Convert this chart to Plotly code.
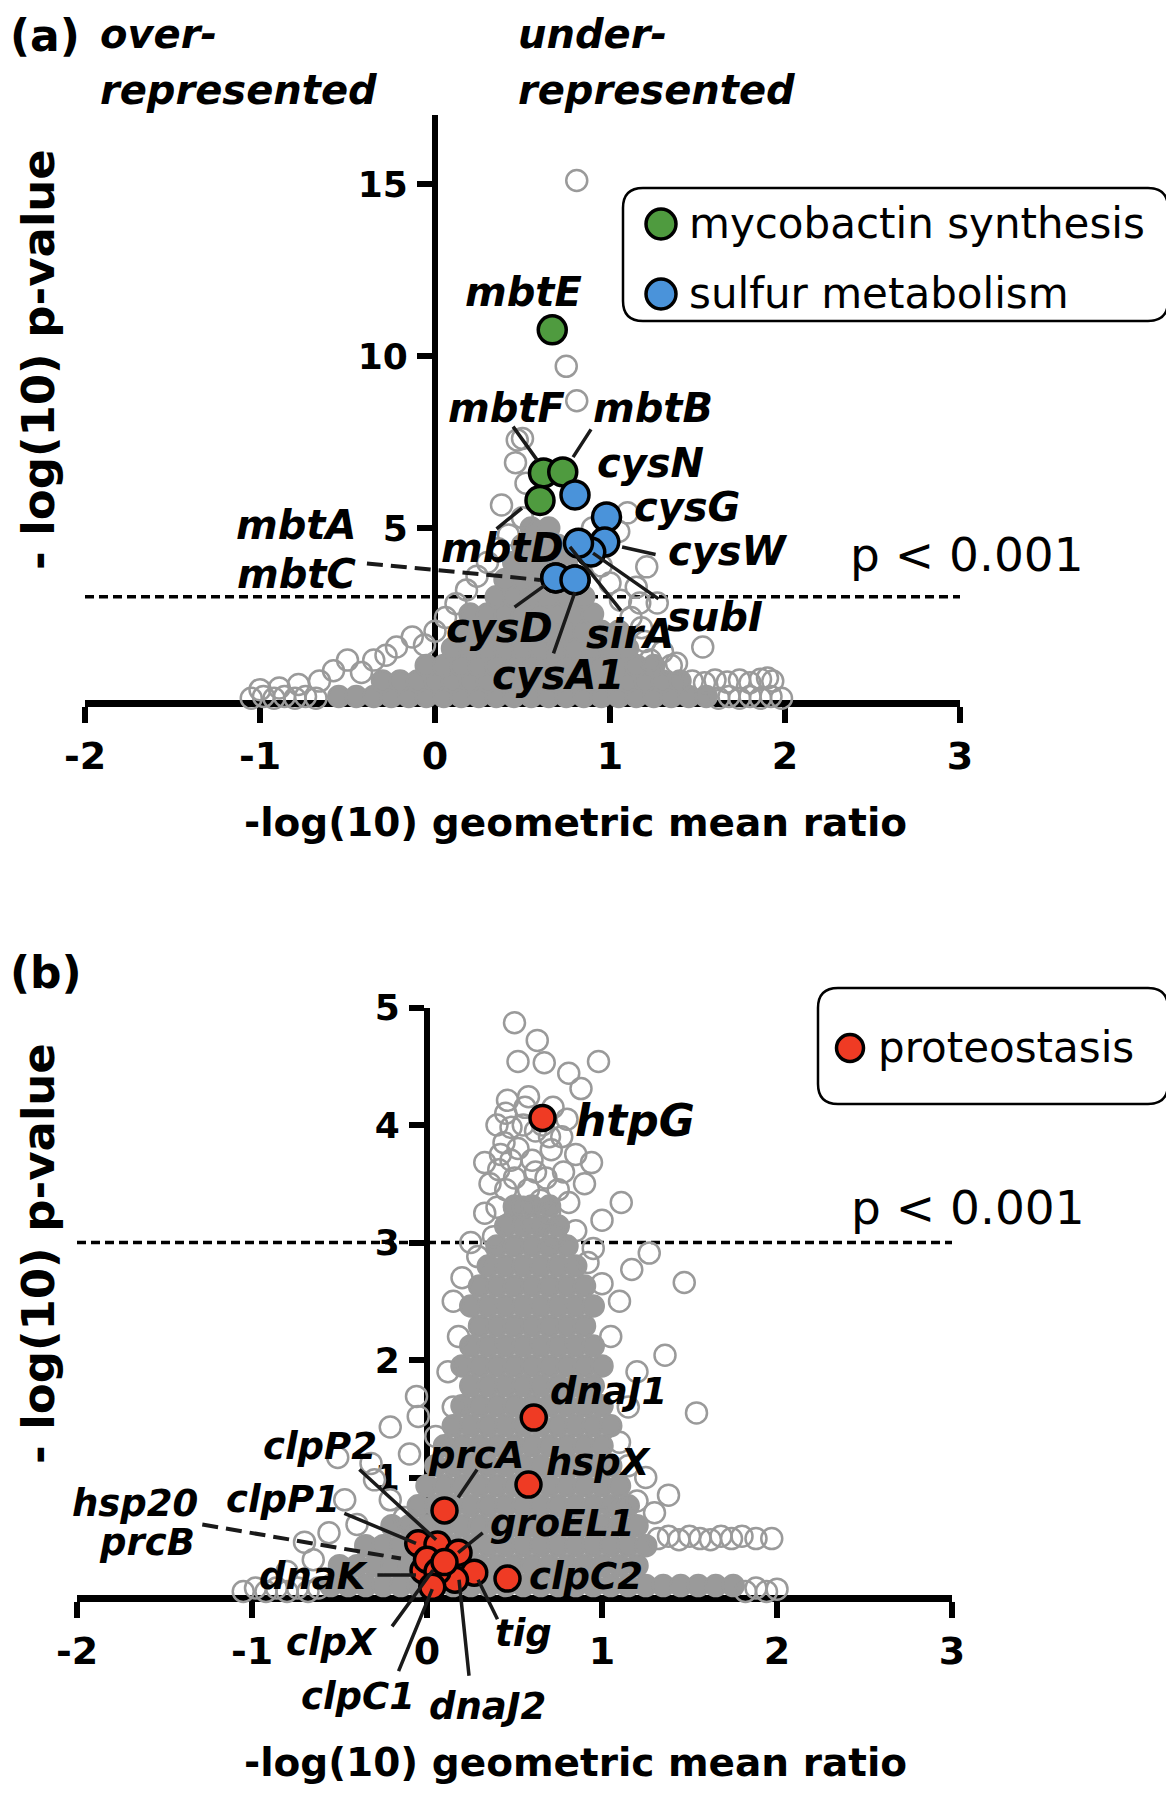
import plotly.graph_objects as go

W, H = 1174, 1800
# the page draws the figure 8 px in from the top-left corner; positions below are
# measured in the reference picture, so they are shifted back by that much
PAGE_OFF = 8

GREY = '#9a9a9a'
GREEN = '#4f9b3f'
BLUE = '#4a93da'
RED = '#ef3b24'
FONT = 'DejaVu Sans'

X_TICKS = [-2, -1, 0, 1, 2, 3]
X_TICK_TEXT = ['-2', '-1', '0', '1', '2', '3']
A_Y_TICKS = [5, 10, 15]
B_Y_TICKS = [1, 2, 3, 4, 5]
A_Y_RANGE = [0, 17]
B_Y_RANGE = [0, 5]
THRESHOLD = 3  # -log10(0.001)

# ---------------- Panel (a) ----------------
# dense (overlapping) part of the grey cloud, row by row
A_CORE_Y = [0.1, 0.55, 1.0, 1.5, 2.0, 2.5, 3.0, 3.5, 4.0, 4.5, 5.0]
A_CORE_X = [
    [-0.55, -0.45, -0.35, -0.25, -0.15, -0.05, 0.05, 0.15, 0.25, 0.35, 0.45, 0.55, 0.65, 0.75, 0.85, 0.95, 1.05, 1.15, 1.25, 1.35, 1.45, 1.55],
    [-0.3, -0.2, -0.1, 0.0, 0.1, 0.2, 0.3, 0.4, 0.5, 0.6, 0.7, 0.8, 0.9, 1.0, 1.1, 1.2, 1.3, 1.4],
    [-0.05, 0.05, 0.15, 0.25, 0.35, 0.45, 0.55, 0.65, 0.75, 0.85, 0.95, 1.05, 1.15, 1.25],
    [0.1, 0.2, 0.3, 0.4, 0.5, 0.6, 0.7, 0.8, 0.9, 1.0, 1.1],
    [0.15, 0.25, 0.35, 0.45, 0.55, 0.65, 0.75, 0.85, 0.95, 1.05],
    [0.2, 0.3, 0.4, 0.5, 0.6, 0.7, 0.8, 0.9],
    [0.35, 0.45, 0.55, 0.65, 0.75, 0.85],
    [0.4, 0.5, 0.6, 0.7, 0.8],
    [0.45, 0.55, 0.65, 0.75],
    [0.5, 0.6, 0.7],
    [0.55, 0.65],
]
# sparse grey proteins (open rings)
A_RING_X = [-1.05, -0.98, -0.92, -0.86, -0.8, -0.74, -0.68,
            -1.0, -0.89, -0.78, -0.66, -0.58, -0.5, -0.42, -0.35, -0.28, -0.22, -0.13, -0.06,
            0.0, 0.06, 0.12, 0.18, 0.24, 0.3, 0.36, 0.42, 0.38, 0.46, 0.47, 0.5, 0.52,
            1.62, 1.68, 1.74, 1.8, 1.86, 1.92, 1.98,
            1.47, 1.54, 1.6, 1.67, 1.74, 1.8, 1.86, 1.93, 1.9,
            1.35, 1.38, 1.23, 1.3, 1.53, 1.2, 1.18, 1.12, 1.17, 1.27, 1.06, 1.15, 1.0, 1.21, 0.95,
            1.1, 0.9, 1.05,
            0.81, 0.75, 0.81, 0.5]
A_RING_Y = [0.05, 0.1, 0.05, 0.1, 0.05, 0.1, 0.05,
            0.3, 0.35, 0.45, 0.55, 0.85, 1.16, 0.8, 1.16, 1.3, 1.54, 1.83, 1.6,
            2.0, 2.4, 2.8, 3.2, 3.6, 4.0, 4.4, 4.8, 5.67, 6.9, 7.56, 5.3, 6.3,
            0.05, 0.1, 0.05, 0.1, 0.05, 0.1, 0.05,
            0.55, 0.5, 0.58, 0.52, 0.58, 0.5, 0.6, 0.55, 0.64,
            1.0, 1.07, 1.16, 1.4, 1.54, 1.7, 2.1, 2.4, 2.82, 2.82, 2.9, 3.28, 3.4, 3.87, 3.9,
            5.44, 5.0, 4.9,
            15.1, 9.7, 8.7, 7.6]

MYCO_GENES = ['mbtA', 'mbtC', 'mbtE', 'mbtF', 'mbtB', 'mbtD']
MYCO_X = [0.69, 0.80, 0.67, 0.62, 0.73, 0.60]
MYCO_Y = [3.55, 3.49, 10.76, 6.60, 6.63, 5.80]
SULF_GENES = ['cysN', 'cysG', 'cysW', 'subI', 'sirA', 'cysD', 'cysA1']
SULF_X = [0.80, 0.98, 0.97, 0.89, 0.82, 0.69, 0.80]
SULF_Y = [5.96, 5.32, 4.59, 4.30, 4.56, 3.55, 3.49]

A_LABELS = ['mbtE', 'mbtF', 'mbtB', 'cysN', 'cysG', 'cysW', 'subI', 'sirA', 'cysA1', 'cysD', 'mbtD', 'mbtA', 'mbtC']
A_LABEL_X = [0.503, 0.406, 1.246, 1.229, 1.44, 1.674, 1.60, 1.114, 0.703, 0.371, 0.383, -0.794, -0.789]
A_LABEL_Y = [11.86, 8.49, 8.49, 6.89, 5.61, 4.33, 2.41, 1.92, 0.73, 2.09, 4.42, 5.09, 3.66]

# leader lines: label end (x, y) -> point end (x, y)
A_LEAD_FROM_X = [0.44, 0.897, 0.343, 0.446, 0.674, 1.069, 1.286, 1.269]
A_LEAD_FROM_Y = [7.99, 7.91, 4.94, 2.67, 1.31, 2.56, 2.91, 4.22]
A_LEAD_TO_X = [0.583, 0.789, 0.497, 0.629, 0.80, 0.771, 0.903, 1.069]
A_LEAD_TO_Y = [6.98, 7.06, 5.58, 3.34, 3.14, 4.45, 4.27, 4.45]
A_DASH_LEAD = [-0.389, 3.97, 0.60, 3.49]  # mbtA / mbtC

# ---------------- Panel (b) ----------------
B_CORE_Y = [0.08, 0.25, 0.42, 0.59, 0.76, 0.93, 1.10, 1.27, 1.44, 1.61, 1.78, 1.95, 2.12, 2.29, 2.46, 2.63, 2.80, 2.97, 3.14, 3.31]
B_CORE_X = [
    [-0.55, -0.45, -0.35, -0.25, -0.15, -0.05, 0.05, 0.15, 0.25, 0.35, 0.45, 0.55, 0.65, 0.75, 0.85, 0.95, 1.05, 1.15, 1.25, 1.35, 1.45, 1.55, 1.65, 1.75],
    [-0.5, -0.4, -0.3, -0.2, -0.1, 0.0, 0.1, 0.2, 0.3, 0.4, 0.5, 0.6, 0.7, 0.8, 0.9, 1.0, 1.1, 1.2],
    [-0.35, -0.25, -0.15, -0.05, 0.05, 0.15, 0.25, 0.35, 0.45, 0.55, 0.65, 0.75, 0.85, 0.95, 1.05, 1.15, 1.25],
    [-0.2, -0.1, 0.0, 0.1, 0.2, 0.3, 0.4, 0.5, 0.6, 0.7, 0.8, 0.9, 1.0, 1.1, 1.2],
    [-0.05, 0.05, 0.15, 0.25, 0.35, 0.45, 0.55, 0.65, 0.75, 0.85, 0.95, 1.05, 1.15],
    [0.0, 0.1, 0.2, 0.3, 0.4, 0.5, 0.6, 0.7, 0.8, 0.9, 1.0, 1.1],
    [0.05, 0.15, 0.25, 0.35, 0.45, 0.55, 0.65, 0.75, 0.85, 0.95, 1.05],
    [0.1, 0.2, 0.3, 0.4, 0.5, 0.6, 0.7, 0.8, 0.9, 1.0],
    [0.15, 0.25, 0.35, 0.45, 0.55, 0.65, 0.75, 0.85, 0.95, 1.05],
    [0.2, 0.3, 0.4, 0.5, 0.6, 0.7, 0.8, 0.9, 1.0],
    [0.25, 0.35, 0.45, 0.55, 0.65, 0.75, 0.85, 0.95],
    [0.2, 0.3, 0.4, 0.5, 0.6, 0.7, 0.8, 0.9, 1.0],
    [0.25, 0.35, 0.45, 0.55, 0.65, 0.75, 0.85, 0.95],
    [0.3, 0.4, 0.5, 0.6, 0.7, 0.8, 0.9],
    [0.25, 0.35, 0.45, 0.55, 0.65, 0.75, 0.85, 0.95],
    [0.3, 0.4, 0.5, 0.6, 0.7, 0.8, 0.9],
    [0.35, 0.45, 0.55, 0.65, 0.75, 0.85],
    [0.4, 0.5, 0.6, 0.7, 0.8],
    [0.45, 0.55, 0.65, 0.75],
    [0.5, 0.6, 0.7],
]
B_RING_X = [-1.05, -0.98, -0.92, -0.86, -0.8, -0.74, -0.68, -0.62,
            1.82, 1.88, 1.94, 2.0,
            1.32, 1.38, 1.44, 1.5, 1.56, 1.62, 1.68, 1.74, 1.8, 1.88, 1.97,
            -0.51, -0.3, -0.47, -0.21, -0.56, -0.13, -0.06, -0.21, -0.05, -0.32, -0.4, -0.65, -0.8, -0.7, -0.1, 0.05,
            1.0, 1.1, 1.2, 1.3, 1.38, 1.25, 1.15, 1.36, 1.54, 1.1, 1.15, 1.2, 1.05, 1.1, 1.0,
            0.15, 0.12, 0.18, 0.15, 0.2, 0.29, 0.33, 0.25,
            0.5, 0.63, 0.52, 0.67, 0.81, 0.98, 0.88, 0.46, 0.58, 0.48, 0.77, 0.71, 0.33, 0.41, 0.94,
            0.58, 0.5, 0.65, 0.81, 1.11, 1.0, 0.6, 0.73, 1.27, 1.17, 1.47, 0.92, 0.45, 0.55, 0.62,
            0.72, 0.44, 0.6, 0.68, 0.45, 0.85, 0.9, 0.4, 0.78, 0.52, 0.55, 0.7, 0.38, 0.95,
            0.36, 0.42, 0.5, 0.62, 0.75, 0.85, 0.66, 0.56, 0.4, 0.8, 0.7, 0.48]
B_RING_Y = [0.03, 0.06, 0.03, 0.06, 0.03, 0.06, 0.03, 0.06,
            0.03, 0.06, 0.03, 0.05,
            0.48, 0.5, 0.47, 0.5, 0.48, 0.47, 0.5, 0.48, 0.5, 0.48, 0.48,
            1.17, 0.98, 0.81, 0.81, 0.53, 0.66, 1.69, 1.43, 1.52, 1.12, 0.6, 0.3, 0.2, 0.45, 1.2, 1.35,
            0.66, 0.75, 0.8, 0.7, 0.85, 1.0, 1.1, 2.04, 1.55, 1.3, 1.6, 1.9, 2.2, 2.5, 2.65,
            1.6, 1.9, 2.2, 2.5, 2.7, 2.88, 3.25, 3.0,
            4.87, 4.72, 4.54, 4.53, 4.44, 4.54, 4.31, 4.21, 4.24, 3.98, 3.9, 3.79, 3.68, 3.62, 3.68,
            3.45, 3.3, 3.36, 3.34, 3.34, 3.19, 3.17, 3.05, 2.91, 2.77, 2.66, 2.83, 4.1, 4.0, 3.95,
            4.15, 3.85, 3.7, 3.55, 3.45, 3.1, 3.5, 3.3, 3.6, 3.8, 3.3, 3.25, 3.05, 2.95,
            3.5, 3.75, 3.55, 3.6, 3.45, 3.75, 4.0, 4.15, 4.0, 4.05, 3.9, 3.7]

PROT_GENES = ['htpG', 'dnaJ1', 'hspX', 'prcA', 'hsp20', 'clpP1', 'groEL1', 'dnaK', 'clpP2',
              'tig', 'dnaJ2', 'clpX', 'clpC1', 'prcB', 'clpC2']
PROT_X = [0.66, 0.61, 0.58, 0.10, -0.05, 0.06, 0.18, -0.02, 0.0, 0.27, 0.16, 0.06, 0.03, 0.10, 0.46]
PROT_Y = [4.06, 1.51, 0.94, 0.72, 0.44, 0.43, 0.36, 0.21, 0.30, 0.19, 0.13, 0.20, 0.07, 0.28, 0.14]

B_LABELS = ['htpG', 'dnaJ1', 'hspX', 'prcA', 'clpP2', 'clpP1', 'hsp20', 'prcB', 'groEL1', 'dnaK',
            'clpC2', 'clpX', 'clpC1', 'dnaJ2', 'tig']
B_LABEL_X = [1.186, 1.037, 0.98, 0.281, -0.613, -0.825, -1.668, -1.60, 0.774, -0.648, 0.911, -0.544, -0.395, 0.344, 0.55]
B_LABEL_Y = [4.04, 1.73, 1.13, 1.19, 1.26, 0.81, 0.78, 0.45, 0.61, 0.16, 0.16, -0.40, -0.86, -0.95, -0.33]

B_LEAD_FROM_X = [-0.395, -0.481, 0.292, 0.327, -0.292, -0.206, -0.166, 0.241, 0.407]
B_LEAD_FROM_Y = [1.08, 0.70, 1.08, 0.54, 0.17, -0.28, -0.66, -0.70, -0.22]
B_LEAD_TO_X = [0.052, -0.063, 0.178, 0.178, -0.063, 0.034, 0.03, 0.183, 0.292]
B_LEAD_TO_Y = [0.47, 0.44, 0.83, 0.36, 0.17, 0.21, 0.05, 0.13, 0.13]
B_DASH_LEAD = [-1.284, 0.60, -0.149, 0.31]  # hsp20 / prcB


def flatten(rows_y, rows_x):
    xs, ys = [], []
    for yv, row in zip(rows_y, rows_x):
        xs.extend(row)
        ys.extend([yv] * len(row))
    return xs, ys


def px(x):
    return (x - PAGE_OFF) / W


def py(y):
    return 1 - (y - PAGE_OFF) / H


# subplot geometry (reference pixels from the top-left corner)
A_X_DOMAIN = [px(85), px(960)]
A_Y_DOMAIN = [py(700), py(115.2)]
A_Y_POS = px(435)
B_X_DOMAIN = [px(77), px(952)]
B_Y_DOMAIN = [py(1595), py(1007.5)]
B_Y_POS = px(427)


def b_paper_y(v):
    d0, d1 = B_Y_DOMAIN
    return d0 + (v - B_Y_RANGE[0]) / (B_Y_RANGE[1] - B_Y_RANGE[0]) * (d1 - d0)


fig = go.Figure()

# ----- traces panel a -----
cx, cy = flatten(A_CORE_Y, A_CORE_X)
fig.add_trace(go.Scatter(x=cx, y=cy, mode='markers', xaxis='x', yaxis='y', cliponaxis=False,
                         marker=dict(symbol='circle', size=21, color=GREY, line=dict(color=GREY, width=2.5)),
                         name='all proteins', hoverinfo='skip'))
fig.add_trace(go.Scatter(x=A_RING_X, y=A_RING_Y, mode='markers', xaxis='x', yaxis='y', cliponaxis=False,
                         marker=dict(symbol='circle-open', size=21, color=GREY, line=dict(width=2.5)),
                         name='all proteins'))
fig.add_trace(go.Scatter(x=MYCO_X, y=MYCO_Y, text=MYCO_GENES, mode='markers', xaxis='x', yaxis='y', cliponaxis=False,
                         marker=dict(size=28, color=GREEN, line=dict(color='black', width=3.5)),
                         name='mycobactin synthesis'))
fig.add_trace(go.Scatter(x=SULF_X, y=SULF_Y, text=SULF_GENES, mode='markers', xaxis='x', yaxis='y', cliponaxis=False,
                         marker=dict(size=28, color=BLUE, line=dict(color='black', width=3.5)),
                         name='sulfur metabolism'))

# ----- traces panel b -----
cx, cy = flatten(B_CORE_Y, B_CORE_X)
fig.add_trace(go.Scatter(x=cx, y=cy, mode='markers', xaxis='x2', yaxis='y2', cliponaxis=False,
                         marker=dict(symbol='circle', size=21, color=GREY, line=dict(color=GREY, width=2.5)),
                         name='all proteins', hoverinfo='skip'))
fig.add_trace(go.Scatter(x=B_RING_X, y=B_RING_Y, mode='markers', xaxis='x2', yaxis='y2', cliponaxis=False,
                         marker=dict(symbol='circle-open', size=21, color=GREY, line=dict(width=2.5)),
                         name='all proteins'))
fig.add_trace(go.Scatter(x=PROT_X, y=PROT_Y, text=PROT_GENES, mode='markers', xaxis='x2', yaxis='y2', cliponaxis=False,
                         marker=dict(size=25, color=RED, line=dict(color='black', width=3.5)),
                         name='proteostasis'))

# ----- axes -----
tick_x_font = dict(family=FONT, size=38, color='black', weight='bold')
tick_y_font = dict(family=FONT, size=36, color='black', weight='bold')


def xaxis(domain, anchor):
    return dict(range=[-2, 3], domain=domain, anchor=anchor, showline=True, linewidth=7, linecolor='black',
                ticks='outside', ticklen=16, tickwidth=6, tickcolor='black', tickvals=X_TICKS,
                ticktext=X_TICK_TEXT, tickfont=tick_x_font, showgrid=False, zeroline=False,
                layer='below traces', ticklabelstandoff=0, fixedrange=True, automargin=False)


def yaxis(rng, domain, position, ticks):
    return dict(range=rng, domain=domain, anchor='free', position=position, showline=True, linewidth=6,
                linecolor='black', ticks='outside', ticklen=15, tickwidth=6, tickcolor='black',
                tickvals=ticks, ticktext=[str(t) for t in ticks], tickfont=tick_y_font, showgrid=False,
                zeroline=False, layer='below traces', ticklabelstandoff=2, fixedrange=True, automargin=False)


fig.update_layout(
    template='none',
    width=W, height=H, margin=dict(l=0, r=0, t=0, b=0, pad=0, autoexpand=False),
    paper_bgcolor='white', plot_bgcolor='rgba(0,0,0,0)', showlegend=False,
    xaxis=xaxis(A_X_DOMAIN, 'y'),
    yaxis=yaxis(A_Y_RANGE, A_Y_DOMAIN, A_Y_POS, A_Y_TICKS),
    xaxis2=xaxis(B_X_DOMAIN, 'y2'),
    yaxis2=yaxis(B_Y_RANGE, B_Y_DOMAIN, B_Y_POS, B_Y_TICKS),
)

shapes = []
annotations = []

# threshold lines
for xr, yr in (('x', 'y'), ('x2', 'y2')):
    shapes.append(dict(type='line', xref=xr, yref=yr, x0=-2, x1=3, y0=THRESHOLD, y1=THRESHOLD,
                       line=dict(color='black', width=3.5, dash='9px,5px'), layer='below'))
    annotations.append(dict(xref=xr, yref=yr, x=2.36 if xr == 'x' else 2.41,
                            y=4.22 if xr == 'x' else 3.30, text='p < 0.001', showarrow=False,
                            xanchor='left', yanchor='middle',
                            font=dict(family=FONT, size=47, color='black')))

# dashed leaders
for xr, yr, d in (('x', 'y', A_DASH_LEAD), ('x2', 'y2', B_DASH_LEAD)):
    shapes.append(dict(type='line', xref=xr, yref=yr, x0=d[0], y0=d[1], x1=d[2], y1=d[3],
                       line=dict(color='#1a1a1a', width=4, dash='16px,8px'), layer='above'))

# solid leaders (annotation arrows, not clipped)
for xr, yr, fx, fy, tx, ty in (('x', 'y', A_LEAD_FROM_X, A_LEAD_FROM_Y, A_LEAD_TO_X, A_LEAD_TO_Y),
                               ('x2', 'y2', B_LEAD_FROM_X, B_LEAD_FROM_Y, B_LEAD_TO_X, B_LEAD_TO_Y)):
    for x0, y0, x1, y1 in zip(fx, fy, tx, ty):
        annotations.append(dict(xref=xr, yref=yr, axref=xr, ayref=yr, x=x1, y=y1, ax=x0, ay=y0,
                                text='', showarrow=True, arrowhead=0, arrowwidth=3.5,
                                arrowcolor='#1a1a1a', standoff=0, startstandoff=0))

# gene labels
for t, x, y in zip(A_LABELS, A_LABEL_X, A_LABEL_Y):
    annotations.append(dict(xref='x', yref='y', x=x, y=y, text=t, showarrow=False,
                            xanchor='center', yanchor='middle',
                            font=dict(family=FONT, size=40, color='black', weight='bold', style='italic')))
for t, x, y in zip(B_LABELS, B_LABEL_X, B_LABEL_Y):
    f = dict(family=FONT, size=44 if t == 'htpG' else 37, color='black', weight='bold', style='italic')
    if y >= 0:
        annotations.append(dict(xref='x2', yref='y2', x=x, y=y, text=t, showarrow=False,
                                xanchor='center', yanchor='middle', font=f))
    else:  # below the x axis: place through the axis domain so it is not hidden
        annotations.append(dict(xref='x2', yref='paper', x=x, y=b_paper_y(y), text=t, showarrow=False,
                                xanchor='center', yanchor='middle', font=f))

# panel letters / headers
hdr = dict(family=FONT, size=40, color='black', weight='bold', style='italic')
letter = dict(family=FONT, size=44, color='black', weight='bold')
for text, x, y, f in (('(a)', 8, 36, letter), ('(b)', 8, 972, letter),
                      ('over-', 98, 34, hdr), ('represented', 98, 90, hdr),
                      ('under-', 516, 34, hdr), ('represented', 516, 90, hdr)):
    annotations.append(dict(xref='paper', yref='paper', x=px(x), y=py(y), text=text, showarrow=False,
                            xanchor='left', yanchor='middle', font=f))

# axis titles
title_font = dict(family=FONT, size=39, color='black', weight='bold')
ytitle_font = dict(family=FONT, size=45, color='black', weight='bold')
for yc in (823, 1762):
    annotations.append(dict(xref='paper', yref='paper', x=px(575), y=py(yc),
                            text='-log(10) geometric mean ratio', showarrow=False,
                            xanchor='center', yanchor='middle', font=title_font))
for yc in (360, 1254):
    annotations.append(dict(xref='paper', yref='paper', x=px(38), y=py(yc), text='- log(10) p-value',
                            showarrow=False, textangle=-90, xanchor='center', yanchor='middle',
                            font=ytitle_font))


# legends (rounded boxes + swatches + text)
def rounded_box(x0, y0, x1, y1, r):
    p = (f"M {px(x0 + r)},{py(y0)} L {px(x1 - r)},{py(y0)} Q {px(x1)},{py(y0)} {px(x1)},{py(y0 + r)} "
         f"L {px(x1)},{py(y1 - r)} Q {px(x1)},{py(y1)} {px(x1 - r)},{py(y1)} "
         f"L {px(x0 + r)},{py(y1)} Q {px(x0)},{py(y1)} {px(x0)},{py(y1 - r)} "
         f"L {px(x0)},{py(y0 + r)} Q {px(x0)},{py(y0)} {px(x0 + r)},{py(y0)} Z")
    return dict(type='path', xref='paper', yref='paper', path=p,
                line=dict(color='black', width=2.5), fillcolor='white', layer='above')


LEGENDS = [
    # box (x0, y0, x1, y1), entries [(label, colour, cx, cy, size)]
    ((623, 188, 1168, 321), [('mycobactin synthesis', GREEN, 661, 224, 30),
                             ('sulfur metabolism', BLUE, 661, 294, 30)]),
    ((818, 988, 1168, 1104), [('proteostasis', RED, 850, 1048, 27)]),
]
for box, entries in LEGENDS:
    shapes.append(rounded_box(*box, 20))
    for label, col, cxp, cyp, s in entries:
        shapes.append(dict(type='circle', xref='paper', yref='paper', xsizemode='pixel', ysizemode='pixel',
                           xanchor=px(cxp), yanchor=py(cyp), x0=-s / 2, x1=s / 2, y0=-s / 2, y1=s / 2,
                           fillcolor=col, line=dict(color='black', width=3.5), layer='above'))
        annotations.append(dict(xref='paper', yref='paper', x=px(cxp + 26), y=py(cyp - 1), text=label,
                                showarrow=False, xanchor='left', yanchor='middle',
                                font=dict(family=FONT, size=42, color='black')))

fig.update_layout(shapes=shapes, annotations=annotations)
fig.write_html('out.html')
